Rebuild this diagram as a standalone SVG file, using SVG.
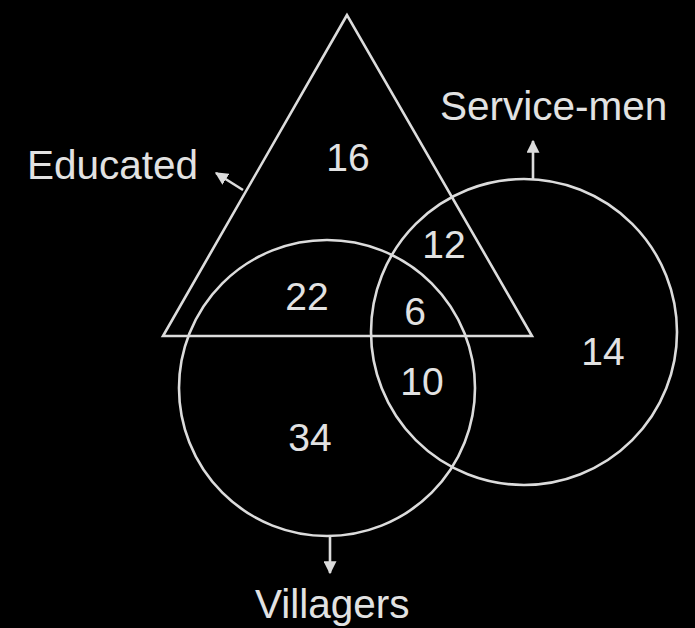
<svg xmlns="http://www.w3.org/2000/svg" width="695" height="628" viewBox="0 0 695 628">
<style>
.s{fill:none;stroke:#dcdcdc;stroke-width:2.6}
.t{fill:#e2e2e2;font-family:"Liberation Sans",Arial,sans-serif;font-size:39px}
.l{font-size:40.5px}
.n{text-anchor:middle}
.c{fill:none;stroke:#dcdcdc;stroke-width:2.6}
</style>
<defs>
<marker id="ah" viewBox="0 0 10 10" refX="9" refY="5" markerWidth="5" markerHeight="5" markerUnits="strokeWidth" orient="auto">
<path d="M0,0 L10,5 L0,10 z" fill="#dcdcdc"/>
</marker>
</defs>
<rect width="695" height="628" fill="#000"/>
<g id="educated">
<polygon class="s" points="347,15 163,336 532,336"/>
</g>
<g id="villagers">
<circle class="s" cx="327" cy="388" r="148"/>
</g>
<g id="servicemen">
<circle class="s" cx="524" cy="332" r="153"/>
</g>
<g id="connectors">
<line class="c" x1="243" y1="190" x2="216" y2="173" marker-end="url(#ah)"/>
<line class="c" x1="533" y1="179" x2="533" y2="141" marker-end="url(#ah)"/>
<line class="c" x1="330" y1="536" x2="330" y2="573" marker-end="url(#ah)"/>
</g>
<g id="labels">
<text class="t l" x="27" y="179">Educated</text>
<text class="t l" x="440" y="120">Service-men</text>
<text class="t l" x="255" y="618">Villagers</text>
<text class="t n" x="348" y="171">16</text>
<text class="t n" x="444" y="258">12</text>
<text class="t n" x="307" y="310">22</text>
<text class="t n" x="415" y="325">6</text>
<text class="t n" x="422" y="395">10</text>
<text class="t n" x="310" y="451">34</text>
<text class="t n" x="603" y="365">14</text>
</g>
</svg>
